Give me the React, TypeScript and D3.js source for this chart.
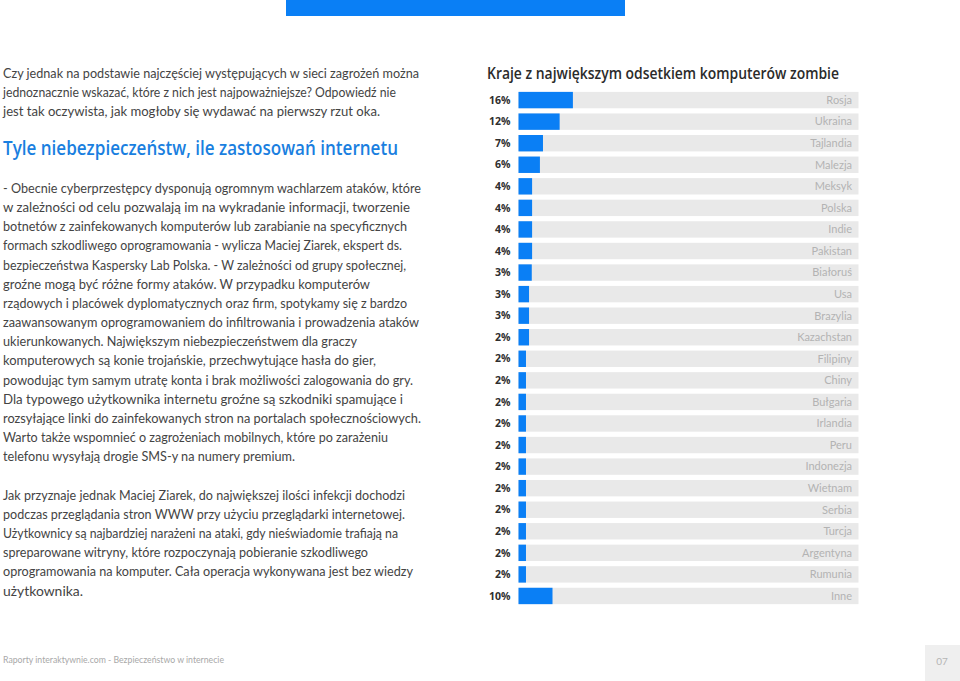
import React from "react";
import * as d3 from "d3";

const countries = [
  "Rosja", "Ukraina", "Tajlandia", "Malezja", "Meksyk", "Polska", "Indie", "Pakistan",
  "Białoruś", "Usa", "Brazylia", "Kazachstan", "Filipiny", "Chiny", "Bułgaria", "Irlandia",
  "Peru", "Indonezja", "Wietnam", "Serbia", "Turcja", "Argentyna", "Rumunia", "Inne",
];
const values = [
  16, 12.1, 7.2, 6.3, 4, 4, 4, 4,
  3.9, 3.1, 3.1, 3.1, 2.2, 2.2, 2.2, 2.2,
  2.2, 2.2, 2.2, 2.2, 2.2, 2.2, 2.2, 10,
];
const valueLabels = [
  "16%", "12%", "7%", "6%", "4%", "4%", "4%", "4%",
  "3%", "3%", "3%", "2%", "2%", "2%", "2%", "2%",
  "2%", "2%", "2%", "2%", "2%", "2%", "2%", "10%",
];

const chartTitle = "Kraje z największym odsetkiem komputerów zombie";

const introLines = [
  "Czy jednak na podstawie najczęściej występujących w sieci zagrożeń można",
  "jednoznacznie wskazać, które z nich jest najpoważniejsze? Odpowiedź nie",
  "jest tak oczywista, jak mogłoby się wydawać na pierwszy rzut oka.",
];
const introWidths = [416, 393, 377];

const heading = "Tyle niebezpieczeństw, ile zastosowań internetu";

const para1 = [
  "- Obecnie cyberprzestępcy dysponują ogromnym wachlarzem ataków, które",
  "w zależności od celu pozwalają im na wykradanie informacji, tworzenie",
  "botnetów z zainfekowanych komputerów lub zarabianie na specyficznych",
  "formach szkodliwego oprogramowania - wylicza Maciej Ziarek, ekspert ds.",
  "bezpieczeństwa Kaspersky Lab Polska. - W zależności od grupy społecznej,",
  "groźne mogą być różne formy ataków. W przypadku komputerów",
  "rządowych i placówek dyplomatycznych oraz firm, spotykamy się z bardzo",
  "zaawansowanym oprogramowaniem do infiltrowania i prowadzenia ataków",
  "ukierunkowanych. Największym niebezpieczeństwem dla graczy",
  "komputerowych są konie trojańskie, przechwytujące hasła do gier,",
  "powodując tym samym utratę konta i brak możliwości zalogowania do gry.",
  "Dla typowego użytkownika internetu groźne są szkodniki spamujące i",
  "rozsyłające linki do zainfekowanych stron na portalach społecznościowych.",
  "Warto także wspomnieć o zagrożeniach mobilnych, które po zarażeniu",
  "telefonu wysyłają drogie SMS-y na numery premium.",
];
const para1Widths = [418, 407, 404, 399, 403, 367, 404, 416, 354, 373, 410, 400, 418, 385, 292];

const para2 = [
  "Jak przyznaje jednak Maciej Ziarek, do największej ilości infekcji dochodzi",
  "podczas przeglądania stron WWW przy użyciu przeglądarki internetowej.",
  "Użytkownicy są najbardziej narażeni na ataki, gdy nieświadomie trafiają na",
  "spreparowane witryny, które rozpoczynają pobieranie szkodliwego",
  "oprogramowania na komputer. Cała operacja wykonywana jest bez wiedzy",
  "użytkownika.",
];
const para2Widths = [402, 402, 395, 365, 410, 80];

const footerText = "Raporty interaktywnie.com - Bezpieczeństwo w internecie";
const pageNumber = "07";

const BLUE = "#0a7ff5";
const FONT = "Lato, 'Open Sans', sans-serif";

export default function App() {
  const W = 960;
  const H = 681;

  const y = d3
    .scaleBand<string>()
    .domain(countries)
    .range([89.3, 89.3 + 24 * 21.56])
    .paddingInner(0.24)
    .paddingOuter(0.12);

  const x = d3.scaleLinear().domain([0, 100]).range([518.5, 858.5]);

  const bodyColor = "#444444";
  const bodySize = 13.2;

  return (
    <svg
      width={W}
      height={H}
      style={{ position: "absolute", left: 0, top: 0, background: "#fff" }}
      fontFamily={FONT}
    >
      <rect x={0} y={0} width={W} height={H} fill="#fff" />
      <rect x={286} y={0} width={339} height={16} fill={BLUE} />

      {introLines.map((t, i) => (
        <text
          key={"i" + i}
          x={3}
          y={78 + i * 19.2}
          fontSize={bodySize}
          fill={bodyColor}
          textLength={introWidths[i]}
          lengthAdjust="spacingAndGlyphs"
        >
          {t}
        </text>
      ))}

      <text
        x={3}
        y={155}
        fontSize={19}
        fontWeight={600}
        fill="#1a7fe0"
        fontFamily="'Open Sans', sans-serif"
        textLength={395}
        lengthAdjust="spacingAndGlyphs"
      >
        {heading}
      </text>

      {para1.map((t, i) => (
        <text
          key={"p" + i}
          x={3}
          y={193 + i * 19.15}
          fontSize={bodySize}
          fill={bodyColor}
          textLength={para1Widths[i]}
          lengthAdjust="spacingAndGlyphs"
        >
          {t}
        </text>
      ))}

      {para2.map((t, i) => (
        <text
          key={"q" + i}
          x={3}
          y={500 + i * 19.1}
          fontSize={bodySize}
          fill={bodyColor}
          textLength={para2Widths[i]}
          lengthAdjust="spacingAndGlyphs"
        >
          {t}
        </text>
      ))}

      <text
        x={487}
        y={79}
        fontSize={15.5}
        fontWeight={600}
        fill="#2b2b2b"
        fontFamily="'Open Sans', sans-serif"
        textLength={352}
        lengthAdjust="spacingAndGlyphs"
      >
        {chartTitle}
      </text>

      {countries.map((c, i) => {
        const yy = y(c)!;
        const bh = y.bandwidth();
        return (
          <g key={c}>
            <rect x={x(0)} y={yy} width={x(100) - x(0)} height={bh} fill="#e9e9e9" />
            <rect x={x(0)} y={yy} width={x(values[i]) - x(0)} height={bh} fill={BLUE} />
            <text
              x={510.5}
              y={yy + bh / 2}
              dy="0.35em"
              textAnchor="end"
              fontSize={10.5}
              fontWeight={700}
              fill="#2e2e2e"
              fontFamily="'Open Sans', sans-serif"
            >
              {valueLabels[i]}
            </text>
            <text
              x={852}
              y={yy + bh / 2}
              dy="0.35em"
              textAnchor="end"
              fontSize={11}
              fill="#b3b3b3"
            >
              {c}
            </text>
          </g>
        );
      })}

      <text
        x={3}
        y={663}
        fontSize={10}
        fill="#a8a8a8"
        textLength={221}
        lengthAdjust="spacingAndGlyphs"
      >
        {footerText}
      </text>
      <rect x={925} y={645} width={35} height={36} fill="#efefef" />
      <text x={942} y={665} textAnchor="middle" fontSize={10} fill="#b5b5b5">
        {pageNumber}
      </text>
    </svg>
  );
}
